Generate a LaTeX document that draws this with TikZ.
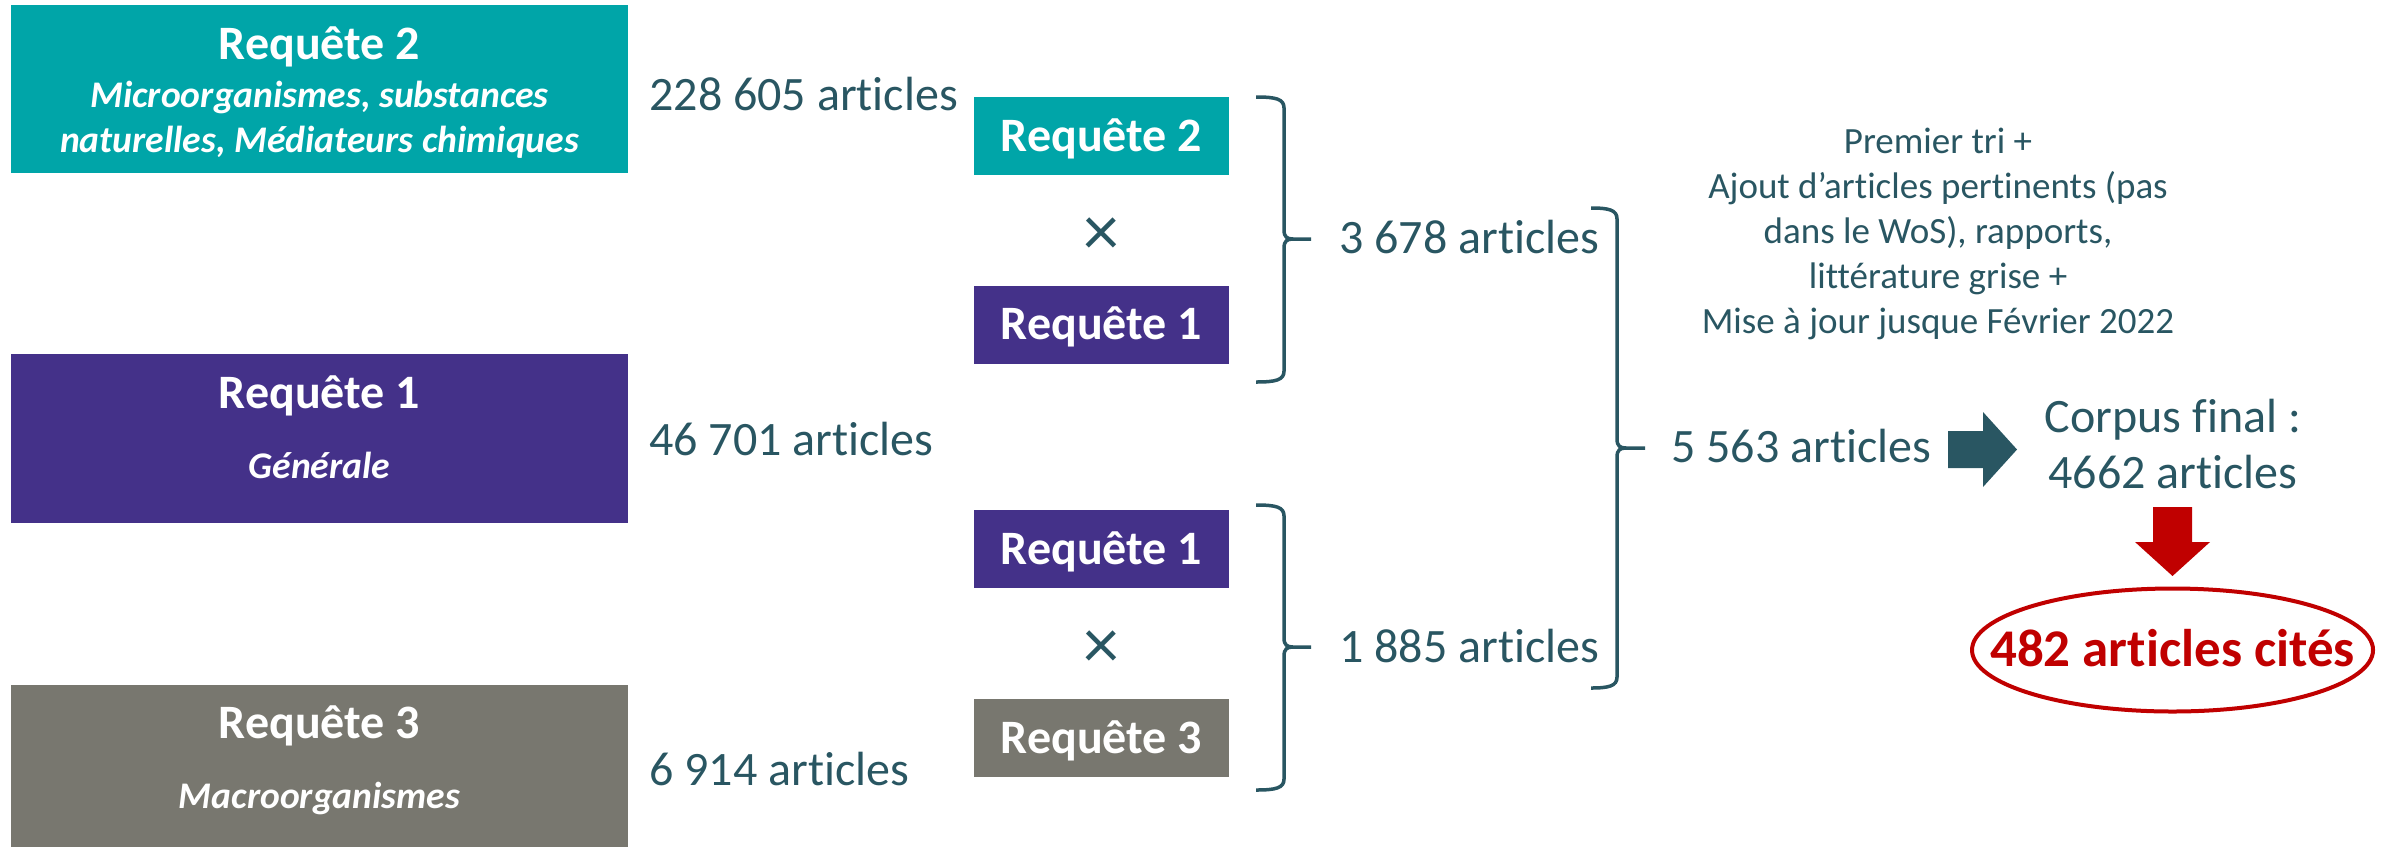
\documentclass[tikz,border=0pt]{standalone}
\usepackage{fontspec}
\setmainfont{Carlito}[Ligatures={NoCommon}]
\definecolor{tealbox}{RGB}{0,165,168}
\definecolor{purplebox}{RGB}{68,49,137}
\definecolor{greybox}{RGB}{120,119,111}
\definecolor{ink}{RGB}{41,86,98}
\definecolor{redc}{RGB}{192,0,0}
\tikzset{
  bigbox/.style={anchor=north west, fill=#1, inner sep=0, minimum width=308.5pt},
  bigtitle/.style={anchor=base, text=white, inner sep=0, font=\bfseries\fontsize{24}{28}\selectfont},
  bigsub/.style={anchor=base, text=white, inner sep=0, align=center, font=\bfseries\itshape\fontsize{18.8}{22.5}\selectfont},
  smallbox/.style={fill=#1, text=white, inner sep=0, minimum width=127.5pt, minimum height=39pt,
    text height=15.4pt, text depth=0pt, font=\bfseries\fontsize{24}{28}\selectfont},
  countlbl/.style={anchor=base west, text=ink, inner sep=0, font=\fontsize{24}{28}\selectfont},
  timeslbl/.style={text=ink, inner sep=0, font=\fontsize{36}{36}\selectfont},
  bracestyle/.style={draw=ink, line width=1.75pt},
}
\newcommand\drawmybrace[6]{% #1 x of ends, #2 x of spine, #3 y top, #4 y tip, #5 y bottom, #6 x of tip
  \draw[bracestyle] (#1,#3) .. controls ({#2-8},#3) and (#2,{#3+2}) .. (#2,{#3+11})
    -- (#2,{#4-9}) .. controls (#2,{#4-2}) and ({#2+3},#4) .. ({#2+9},#4) -- (#6,#4)
    ({#2+9},#4) .. controls ({#2+3},#4) and (#2,{#4+2}) .. (#2,{#4+9})
    -- (#2,{#5-11}) .. controls (#2,{#5-2}) and ({#2-8},#5) .. (#1,#5);
}
\begin{document}
\begin{tikzpicture}[x=0.5pt,y=-0.5pt]
\useasboundingbox (0,0) rectangle (2385,847);

% big query boxes
\node[bigbox=tealbox, minimum height=84pt] (big2) at (11,5) {};
\node[bigtitle] (big2t) at (319.5,59) {Requête 2};
% multi-line nodes: base anchor = baseline of the last line
\node[bigsub] (big2s) at (319.5,152) {Microorganismes, substances\\naturelles, Médiateurs chimiques};

\node[bigbox=purplebox, minimum height=84.5pt] (big1) at (11,354) {};
\node[bigtitle] (big1t) at (319.5,408) {Requête 1};
\node[bigsub] (big1s) at (319.5,478) {Générale};

\node[bigbox=greybox, minimum height=81pt] (big3) at (11,685) {};
\node[bigtitle] (big3t) at (319.5,738) {Requête 3};
\node[bigsub] (big3s) at (319.5,808) {Macroorganismes};

% counts
\node[countlbl] (c2) at (649,110) {228 605 articles};
\node[countlbl] (c1) at (649,455) {46 701 articles};
\node[countlbl] (c3) at (649,785) {6 914 articles};

% small boxes
\node[smallbox=tealbox] (s2a) at (1101.5,136) {Requête 2};
\node[timeslbl] (xa) at (1101.5,237) {×};
\node[smallbox=purplebox] (s1a) at (1101.5,324.5) {Requête 1};

\node[smallbox=purplebox] (s1b) at (1101.5,549) {Requête 1};
\node[timeslbl] (xb) at (1101.5,650) {×};
\node[smallbox=greybox] (s3b) at (1101.5,738) {Requête 3};

% braces
\drawmybrace{1256}{1284}{97}{239}{382}{1311}
\drawmybrace{1256}{1284}{505}{647}{790}{1311}
\drawmybrace{1591}{1617}{208}{448}{688}{1645}

\node[countlbl] (r23) at (1339,253) {3 678 articles};
\node[countlbl] (r13) at (1339,662) {1 885 articles};
\node[countlbl] (tot) at (1671,462) {5 563 articles};

% note
\node[anchor=base, align=center, text=ink, inner sep=0, font=\fontsize{18.5}{22.5}\selectfont] (tri) at (1938,333)
  {Premier tri +\\Ajout d’articles pertinents (pas\\dans le WoS), rapports,\\littérature grise +\\Mise à jour jusque Février 2022};

% arrow to corpus
\fill[ink] (1948,431) -- (1983,431) -- (1983,412) -- (2017,449.5) -- (1983,487) -- (1983,468) -- (1948,468) -- cycle;

\node[anchor=base, align=center, text=ink, inner sep=0, font=\fontsize{24}{28}\selectfont] (corpus) at (2173,488)
  {Corpus final :\\4662 articles};

% red arrow
\fill[redc] (2153,507) -- (2192,507) -- (2192,542) -- (2210,542) -- (2172.5,576) -- (2135,542) -- (2153,542) -- cycle;

% cited
\node[text=redc, inner sep=0, text height=16.8pt, text depth=0pt, font=\bfseries\fontsize{26.5}{30}\selectfont] (cited) at (2172.5,650) {482 articles cités};
\draw[redc, line width=2pt] (cited.center) ellipse [x radius=100.25pt, y radius=30.75pt];
\end{tikzpicture}
\end{document}
